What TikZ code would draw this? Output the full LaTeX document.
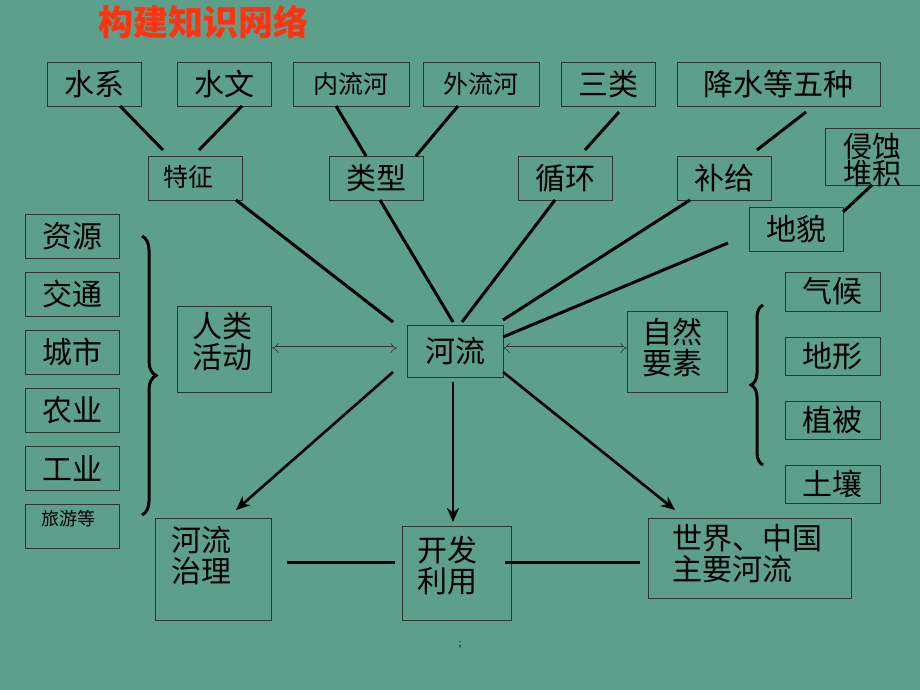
\documentclass[tikz,border=0pt]{standalone}
\usepackage{fontspec}
\setmainfont{Noto Sans CJK SC}
\usetikzlibrary{arrows.meta,decorations.pathreplacing}
\definecolor{bg}{HTML}{5CA08C}
\definecolor{ttl}{HTML}{FF3311}
\tikzset{
 bx/.style={draw=black!80, line width=0.9pt},
 ln/.style={line width=3pt, black},
 ar/.style={line width=2.6pt, black, -{Stealth[length=14pt,width=12pt]}},
 dbl/.style={double=bg, draw=black!80, double distance=3pt, line width=0.6pt, {Implies[length=10pt]}-{Implies[length=10pt]}},
 tx/.style={font=\fontsize{30}{31}\selectfont, inner sep=0pt, align=left},
 txs/.style={font=\fontsize{25}{27}\selectfont, inner sep=0pt},
}
\begin{document}
\begin{tikzpicture}[x=1pt,y=-1pt]
\fill[bg] (0,0) rectangle (920,690);
\useasboundingbox (0,0) rectangle (920,690);
\node[font=\fontsize{35}{36}\selectfont\bfseries, text=ttl] (title) at (203,22) {构建知识网络};
\newcommand\bxn[6]{\draw[bx] (#2,#3) rectangle (#4,#5); \node[tx] (#1) at ({(#2+#4)/2},{(#3+#5)/2}) {#6};}
\newcommand\bxs[6]{\draw[bx] (#2,#3) rectangle (#4,#5); \node[txs] (#1) at ({(#2+#4)/2},{(#3+#5)/2}) {#6};}
\bxn{sx}{47}{62}{141}{106}{水系}
\bxn{sw}{177}{62}{271}{106}{水文}
\bxs{nl}{293}{62}{409}{106}{内流河}
\bxs{wl}{423}{62}{539}{106}{外流河}
\bxn{sl}{561}{62}{655}{106}{三类}
\bxn{js}{677}{62}{880}{106}{降水等五种}
\draw[bx] (148,156) rectangle (242,200); \node[txs] (tz) at (188,177) {特征};
\bxn{lx}{329}{156}{423}{200}{类型}
\bxn{xh}{518}{156}{612}{200}{循环}
\bxn{bj}{677}{156}{771}{200}{补给}
\draw[bx] (825,128) rectangle (920,185); \node[tx,font=\fontsize{29}{27}\selectfont] (qs) at (872,160) {侵蚀\\堆积};
\bxn{dm}{749}{207}{843}{251}{地貌}
\bxn{zy}{25}{214}{119}{258}{资源}
\bxn{jt}{25}{272}{119}{316}{交通}
\bxn{cs}{25}{330}{119}{374}{城市}
\bxn{ny}{25}{388}{119}{432}{农业}
\bxn{gy}{25}{446}{119}{490}{工业}
\draw[bx] (25,504) rectangle (119,548); \node[font=\fontsize{18}{20}\selectfont,inner sep=0pt] (ly) at (68,519) {旅游等};
\draw[bx] (177,306) rectangle (271,392); \node[tx] (rl) at (222,342) {人类\\活动};
\bxn{hl}{407}{325}{503}{377}{河流}
\draw[bx] (627,311) rectangle (727,392); \node[tx] (zr) at (672,347) {自然\\要素};
\bxn{qh}{785}{272}{880}{311}{气候}
\bxn{dx}{785}{337}{880}{375}{地形}
\bxn{zb}{785}{401}{880}{439}{植被}
\bxn{tr}{785}{465}{880}{503}{土壤}
\draw[bx] (155,518) rectangle (271,620); \node[tx] (zl) at (201,556) {河流\\治理};
\draw[bx] (402,526) rectangle (511,620); \node[tx] (ky) at (447,566) {开发\\利用};
\draw[bx] (648,518) rectangle (851,598); \node[tx] (sj) at (747,554) {世界、中国\\主要河流};
\draw[ln] (120,106) -- (163,150);
\draw[ln] (242,106) -- (199,150);
\draw[ln] (336,106) -- (366,156);
\draw[ln] (458,106) -- (416,156);
\draw[ln] (619,112) -- (585,150);
\draw[ln] (806,112) -- (757,150);
\draw[ln] (872,185) -- (843,212);
\draw[ln] (236,200) -- (393,322);
\draw[ln] (380,200) -- (453,322);
\draw[ln] (555,200) -- (462,322);
\draw[ln] (690,200) -- (503,320);
\draw[ln] (728,243) -- (503,337);
\draw[ar] (393,372) -- (236,510);
\draw[ar] (453,382) -- (453,522);
\draw[ar] (503,372) -- (675,510);
\draw[ln] (287,562) -- (395,562);
\draw[ln] (505,562) -- (640,562);
\draw[dbl] (272,348) -- (397,348);
\draw[dbl] (503,348) -- (627,348);
\draw[line width=3pt, decorate, decoration={brace, amplitude=14pt}] (142,236) -- (142,515);
\draw[line width=3pt, decorate, decoration={brace, amplitude=12pt, mirror}] (763,305) -- (763,465);
\node[font=\small] (semi) at (460,645) {;};
\end{tikzpicture}
\end{document}
